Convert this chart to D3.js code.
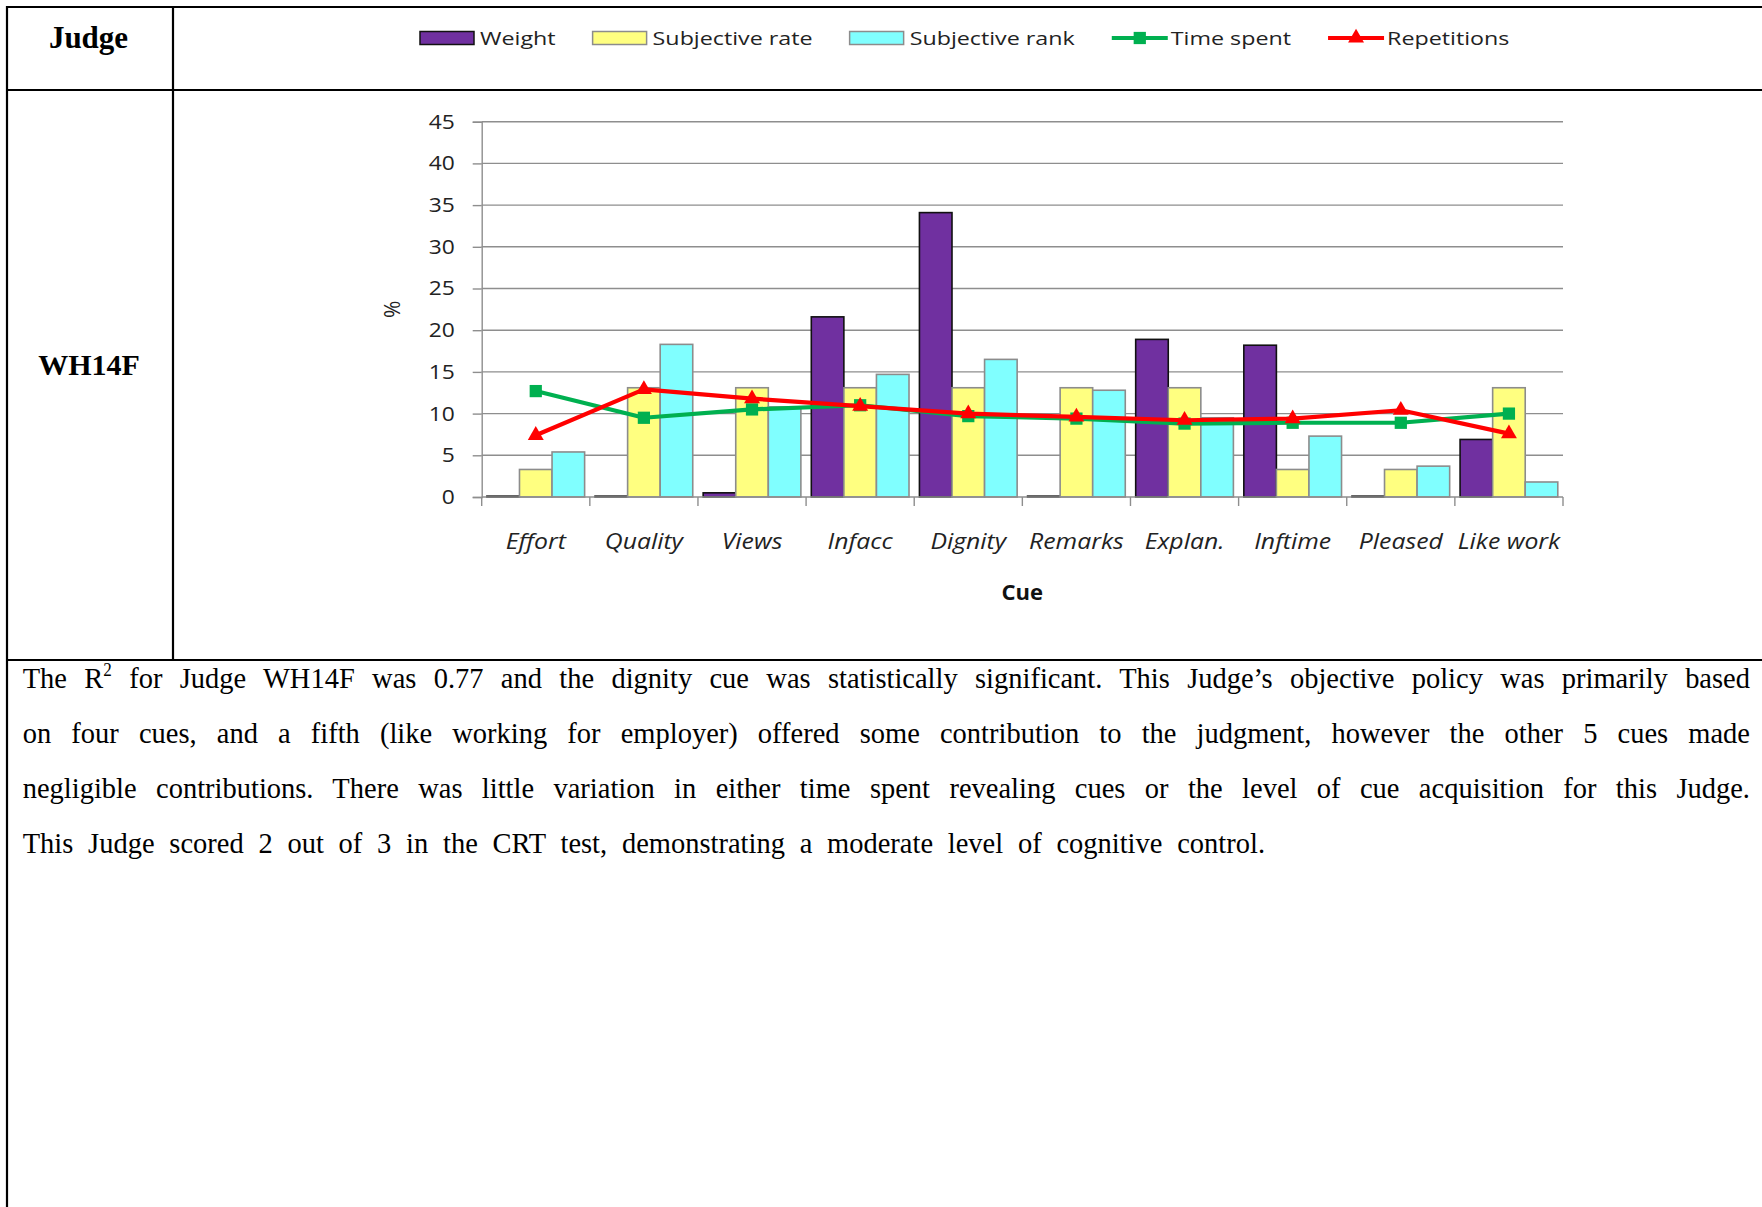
<!DOCTYPE html>
<html><head><meta charset="utf-8">
<script src="https://cdn.jsdelivr.net/npm/d3@7"></script>
<style>html,body{margin:0;padding:0;background:#fff;}svg{display:block;}</style>
</head><body>
<svg id="c" width="1762" height="1207"></svg>
<script>
// ---- data ----
const categories = ["Effort","Quality","Views","Infacc","Dignity","Remarks","Explan.","Inftime","Pleased","Like work"];
const weight      = [0.1, 0.1, 0.5, 21.6, 34.1, 0.1, 18.9, 18.2, 0.1, 6.9];
const subjRate    = [3.3, 13.1, 13.1, 13.1, 13.1, 13.1, 13.1, 3.3, 3.3, 13.1];
const subjRank    = [5.4, 18.3, 10.8, 14.7, 16.5, 12.8, 9.5, 7.3, 3.7, 1.8];
const timeSpent   = [12.7, 9.5, 10.5, 11.0, 9.7, 9.4, 8.8, 8.9, 8.9, 10.0];
const repetitions = [7.4, 12.9, 11.8, 10.9, 10.0, 9.6, 9.2, 9.4, 10.4, 7.6];
const yTicks = [0,5,10,15,20,25,30,35,40,45];
const barSeries = [
  {name:"Weight", values: weight, fill:"#7030A0", stroke:"#111"},
  {name:"Subjective rate", values: subjRate, fill:"#FFFF80", stroke:"#8c8c8c"},
  {name:"Subjective rank", values: subjRank, fill:"#80FFFF", stroke:"#8c8c8c"}
];
const lineSeries = [
  {name:"Time spent", values: timeSpent, color:"#00B050", marker:"square"},
  {name:"Repetitions", values: repetitions, color:"#FF0000", marker:"triangle"}
];
const judge = "WH14F";
const paraLines = [
  {pre:"The R", sup:"2", post:" for Judge WH14F was 0.77 and the dignity cue was statistically significant. This Judge\u2019s objective policy was primarily based", end:1750},
  {pre:"on four cues, and a fifth (like working for employer) offered some contribution to the judgment, however the other 5 cues made", end:1750},
  {pre:"negligible contributions. There was little variation in either time spent revealing cues or the level of cue acquisition for this Judge.", end:1750},
  {pre:"This Judge scored 2 out of 3 in the CRT test, demonstrating a moderate level of cognitive control.", end:1265}
];

const svg = d3.select("#c");
const W = 1762, H = 1207;
const SANS = "'Open Sans', sans-serif";
const SERIF = "'Liberation Serif', 'Times New Roman', serif";

// ---- table ----
const tb = svg.append("g").attr("stroke","#000").attr("stroke-width",2.2);
tb.append("line").attr("x1",6).attr("x2",W).attr("y1",7).attr("y2",7);
tb.append("line").attr("x1",7).attr("x2",7).attr("y1",6).attr("y2",H);
tb.append("line").attr("x1",173).attr("x2",173).attr("y1",6).attr("y2",660);
tb.append("line").attr("x1",6).attr("x2",W).attr("y1",90).attr("y2",90);
tb.append("line").attr("x1",6).attr("x2",W).attr("y1",660).attr("y2",660);

svg.append("text").attr("x",88.5).attr("y",47.5).attr("text-anchor","middle")
  .attr("font-family",SERIF).attr("font-weight","bold").attr("font-size",31).text("Judge");
svg.append("text").attr("x",89).attr("y",375).attr("text-anchor","middle")
  .attr("font-family",SERIF).attr("font-weight","bold").attr("font-size",30).text(judge);

// ---- paragraph ----
const pX0 = 22.7, pY0 = 687.5, pDY = 55, PSX = 0.95;
paraLines.forEach((ln,i)=>{
  const t = svg.append("text").attr("transform",`translate(${pX0},${pY0+i*pDY}) scale(${PSX},1)`)
    .attr("font-family",SERIF).attr("font-size",30).attr("fill","#000");
  t.append("tspan").text(ln.pre);
  let full = ln.pre;
  if(ln.sup){
    t.append("tspan").attr("dy",-12).attr("font-size",18).text(ln.sup);
    t.append("tspan").attr("dy",12).text(ln.post);
    full += ln.sup + ln.post;
  }
  const nat = t.node().getComputedTextLength();
  const spaces = (full.match(/ /g)||[]).length;
  t.style("word-spacing", (((ln.end-pX0)/PSX-nat)/spaces)+"px");
});

// ---- chart ----
const x0 = 481.7, x1 = 1563, yTop = 121.7, yBot = 497;
const x = d3.scaleBand().domain(categories).range([x0,x1]).padding(0);
const y = d3.scaleLinear().domain([0,45]).range([yBot,yTop]);
const gapRatio = 0.32;
const bw = x.bandwidth()/(barSeries.length+gapRatio);
const off = gapRatio*bw/2;

const ch = svg.append("g");
// gridlines
ch.append("g").selectAll("line").data(yTicks.filter(v=>v>0)).join("line")
  .attr("x1",x0).attr("x2",x1).attr("y1",d=>y(d)).attr("y2",d=>y(d))
  .attr("stroke","#8e8e8e").attr("stroke-width",1.4);

// y axis
const SXT = 1.14;
const yAx = ch.append("g").attr("transform",`translate(${x0},0)`)
  .call(d3.axisLeft(y).tickValues(yTicks).tickSize(9).tickPadding(19).tickFormat(d3.format("d")));
yAx.select(".domain").attr("stroke","#8e8e8e").attr("stroke-width",1.4);
yAx.selectAll(".tick line").attr("stroke","#8e8e8e").attr("stroke-width",1.4);
yAx.selectAll(".tick text").attr("font-family",SANS).attr("font-size",20).attr("fill","#222")
  .attr("x",-27/SXT).attr("transform",`scale(${SXT},1)`);

// bars
barSeries.forEach((s,si)=>{
  ch.append("g").selectAll("rect").data(categories).join("rect")
    .attr("x",(c)=>x(c)+off+si*bw).attr("width",bw)
    .attr("y",(c,i)=>y(s.values[i])).attr("height",(c,i)=>yBot-y(s.values[i]))
    .attr("fill",s.fill).attr("stroke",s.stroke).attr("stroke-width",1.6);
});

// x axis baseline & ticks
ch.append("line").attr("x1",x0).attr("x2",x1).attr("y1",yBot).attr("y2",yBot)
  .attr("stroke","#8e8e8e").attr("stroke-width",1.4);
const bounds = categories.map(c=>x(c)).concat([x.range()[1]]);
ch.append("g").selectAll("line").data(bounds).join("line")
  .attr("x1",d=>d).attr("x2",d=>d).attr("y1",yBot).attr("y2",yBot+9)
  .attr("stroke","#8e8e8e").attr("stroke-width",1.4);
const SXC = 1.18;
ch.append("g").selectAll("text").data(categories).join("text")
  .attr("transform",c=>`translate(${x(c)+x.bandwidth()/2},548.5) scale(${SXC},1)`)
  .attr("text-anchor","middle").attr("font-family",SANS).attr("font-style","italic")
  .attr("font-size",21).attr("fill","#222").text(c=>c);

// axis titles
ch.append("text").attr("transform",`translate(${(x0+x1)/2},600) scale(1.05,1)`).attr("text-anchor","middle")
  .attr("font-family",SANS).attr("font-weight","bold").attr("font-size",21).attr("fill","#111").text("Cue");
ch.append("text").attr("transform",`translate(400,${(yTop+yBot)/2}) rotate(-90)`)
  .attr("text-anchor","middle").attr("font-family",SANS).attr("font-size",21).attr("fill","#222").text("%");

// lines
const sym = {square:d3.symbol(d3.symbolSquare,150), triangle:d3.symbol(d3.symbolTriangle,110)};
lineSeries.forEach(s=>{
  const pts = categories.map((c,i)=>[x(c)+x.bandwidth()/2, y(s.values[i])]);
  ch.append("path").attr("d",d3.line()(pts)).attr("fill","none")
    .attr("stroke",s.color).attr("stroke-width",4.2).attr("stroke-linejoin","round");
  ch.append("g").selectAll("path").data(pts).join("path")
    .attr("transform",d=>`translate(${d[0]},${d[1]})`).attr("d",sym[s.marker]())
    .attr("fill",s.color);
});

// legend
const SXL = 1.225;
const lg = svg.append("g");
let lx = 420; const ly = 38;
const items = barSeries.map(s=>({type:"bar",s})).concat(lineSeries.map(s=>({type:"line",s})));
items.forEach(it=>{
  if(it.type==="bar"){
    lg.append("rect").attr("x",lx).attr("y",ly-6.5).attr("width",54).attr("height",13)
      .attr("fill",it.s.fill).attr("stroke",it.s.stroke).attr("stroke-width",1.5);
  } else {
    lg.append("line").attr("x1",lx).attr("x2",lx+56).attr("y1",ly).attr("y2",ly)
      .attr("stroke",it.s.color).attr("stroke-width",4.2);
    lg.append("path").attr("transform",`translate(${lx+28},${ly})`).attr("d",sym[it.s.marker]()).attr("fill",it.s.color);
  }
  const tx = lx + (it.type==="bar"?60:59);
  const t = lg.append("text").attr("transform",`translate(${tx},${ly+7}) scale(${SXL},1)`)
    .attr("font-family",SANS).attr("font-size",19).attr("fill","#222").text(it.s.name);
  const w = t.node().getComputedTextLength()*SXL;
  lx = tx + w + 37;
});
</script>
</body></html>
